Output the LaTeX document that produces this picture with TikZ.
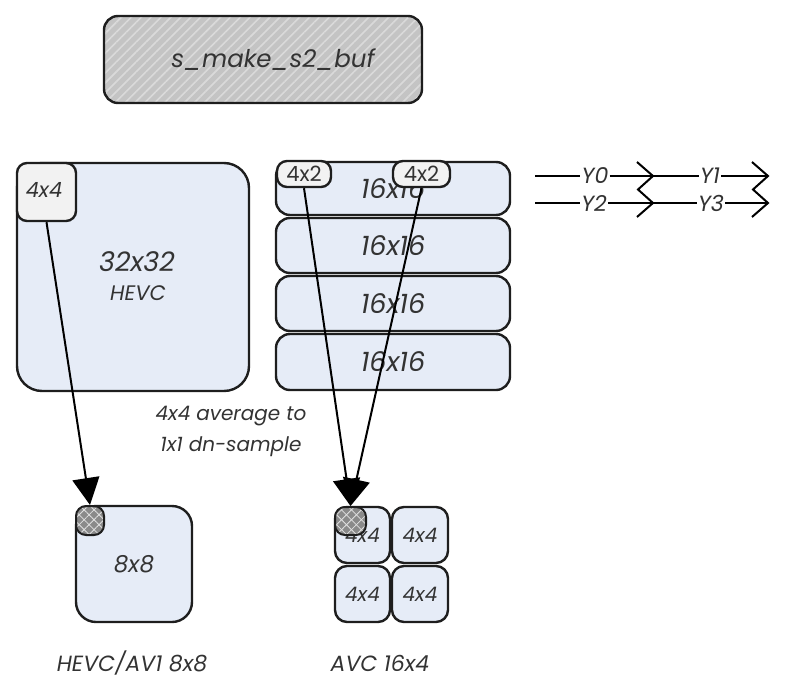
\documentclass[tikz,border=0pt]{standalone}
\usepackage{fontspec}
\setmainfont{Poppins}
\usetikzlibrary{arrows.meta,patterns.meta}
\definecolor{boxblue}{HTML}{E6ECF7}
\definecolor{boxgray}{HTML}{F2F2F2}
\definecolor{titlegray}{HTML}{C4C4C4}
\definecolor{hatch}{HTML}{DADADA}
\definecolor{dotgray}{HTML}{8A8A8A}
\definecolor{txt}{HTML}{333333}
\definecolor{edge}{HTML}{1E1E1E}
\tikzset{
  blk/.style={draw=edge, line width=2.4pt, rectangle, inner sep=0pt, text=txt, font=\itshape},
  bluebox/.style={blk, fill=boxblue},
  graybox/.style={blk, fill=boxgray},
  dotbox/.style={draw=edge, line width=2pt, rectangle, inner sep=0pt, rounded corners=10pt,
     preaction={fill=dotgray},
     preaction={pattern={Lines[angle=45,distance=7pt,line width=0.8pt]}, pattern color=hatch!80!white},
     preaction={pattern={Lines[angle=-45,distance=7pt,line width=0.8pt]}, pattern color=hatch!80!white}},
  lbl/.style={text=txt, font=\itshape, inner sep=0pt},
  conn/.style={draw=black, line width=2pt, -{Triangle[width=27pt,length=27pt]}},
  leg/.style={draw=black, line width=2pt},
}
\begin{document}
\begin{tikzpicture}[x=1pt,y=-1pt]
\useasboundingbox (0,0) rectangle (786,693);
% title
\node[blk, rounded corners=14pt, minimum width=318pt, minimum height=87pt,
      preaction={fill=titlegray},
      preaction={pattern={Lines[angle=45,distance=7pt,line width=1.6pt]}, pattern color=hatch}] (title) at (263,59.5) {};
\node[lbl, font=\itshape\fontsize{24.5}{30}\selectfont] (titletxt) at (273,59.5) {s\_make\_s2\_buf};
% big 32x32
\node[bluebox, rounded corners=25pt, minimum width=232pt, minimum height=228pt] (big) at (133,277) {};
\node[lbl, font=\itshape\fontsize{27}{30}\selectfont] (t32) at (137,262) {32x32};
\node[lbl, font=\itshape\fontsize{21}{24}\selectfont] (thevc) at (138,293) {HEVC};
\node[graybox, rounded corners=10pt, minimum width=59pt, minimum height=58pt] (sm44) at (46.5,192) {};
\node[lbl, font=\itshape\fontsize{21}{24}\selectfont] (t44) at (44,190) {4x4};
% 16x16 stack
\node[bluebox, rounded corners=14pt, minimum width=234pt, minimum height=53pt, font=\itshape\fontsize{27}{30}\selectfont] (r1) at (393,188.5) {16x16};
\node[bluebox, rounded corners=14pt, minimum width=234pt, minimum height=55pt, font=\itshape\fontsize{27}{30}\selectfont] (r2) at (393,245.5) {16x16};
\node[bluebox, rounded corners=14pt, minimum width=234pt, minimum height=55pt, font=\itshape\fontsize{27}{30}\selectfont] (r3) at (393,303.5) {16x16};
\node[bluebox, rounded corners=14pt, minimum width=234pt, minimum height=56pt, font=\itshape\fontsize{27}{30}\selectfont] (r4) at (393,362) {16x16};
\node[graybox, rounded corners=10pt, minimum width=54pt, minimum height=26pt, font=\fontsize{21}{24}\selectfont] (a) at (304,174) {4x2};
\node[graybox, rounded corners=10pt, minimum width=57pt, minimum height=26pt, font=\fontsize{21}{24}\selectfont] (b) at (421.5,174) {4x2};
% caption in middle
\node[lbl, align=center, font=\itshape\fontsize{20}{31}\selectfont] (avg) at (231,431) {4x4 average to\\1x1 dn-sample};
% 8x8
\node[bluebox, rounded corners=20pt, minimum width=116pt, minimum height=116pt, font=\itshape\fontsize{23}{26}\selectfont] (e8) at (134,564) {8x8};
\node[dotbox, minimum width=28pt, minimum height=29pt] (c1) at (90,520.5) {};
% 4x4 grid
\node[bluebox, rounded corners=12pt, minimum width=55pt, minimum height=56pt, font=\itshape\fontsize{20}{24}\selectfont] (g1) at (362.5,535) {4x4};
\node[bluebox, rounded corners=12pt, minimum width=56pt, minimum height=56pt, font=\itshape\fontsize{20}{24}\selectfont] (g2) at (420,535) {4x4};
\node[bluebox, rounded corners=12pt, minimum width=55pt, minimum height=56pt, font=\itshape\fontsize{20}{24}\selectfont] (g3) at (362.5,594) {4x4};
\node[bluebox, rounded corners=12pt, minimum width=56pt, minimum height=56pt, font=\itshape\fontsize{20}{24}\selectfont] (g4) at (420,594) {4x4};
\node[dotbox, minimum width=31pt, minimum height=28pt] (c2) at (350.5,521) {};
% bottom labels
\node[lbl, font=\itshape\fontsize{22}{26}\selectfont] (l1) at (132,663) {HEVC/AV1 8x8};
\node[lbl, font=\itshape\fontsize{22}{26}\selectfont] (l2) at (380,663) {AVC 16x4};
% arrows
\draw[conn] (sm44.south) -- (c1.north);
\draw[conn] (a.south) -- (c2.north);
\draw[conn] (b.south) -- (c2.north);
% legend
\coordinate (s0) at (535,176);
\coordinate (s2) at (535,203);
\coordinate (m0) at (653,176);
\coordinate (m2) at (653,203);
\coordinate (e0) at (768,176);
\coordinate (e2) at (768,203);
\node[lbl, fill=white, inner xsep=1pt, font=\itshape\fontsize{22}{24}\selectfont] (y0) at (595,176) {Y0};
\node[lbl, fill=white, inner xsep=1pt, font=\itshape\fontsize{22}{24}\selectfont] (y2) at (594,203) {Y2};
\node[lbl, fill=white, inner xsep=1pt, font=\itshape\fontsize{22}{24}\selectfont] (y1) at (710,176) {Y1};
\node[lbl, fill=white, inner xsep=1pt, font=\itshape\fontsize{22}{24}\selectfont] (y3) at (711,203) {Y3};
\draw[leg] (s0) -- (y0) -- (m0) -- (y1) -- (e0);
\draw[leg] (s2) -- (y2) -- (m2) -- (y3) -- (e2);
\draw[leg, line join=miter] (637,162) -- (m0) -- (638,189.5) -- (m2) -- (637,217);
\draw[leg, line join=miter] (752,162) -- (e0) -- (753,189.5) -- (e2) -- (752,217);
\end{tikzpicture}
\end{document}
